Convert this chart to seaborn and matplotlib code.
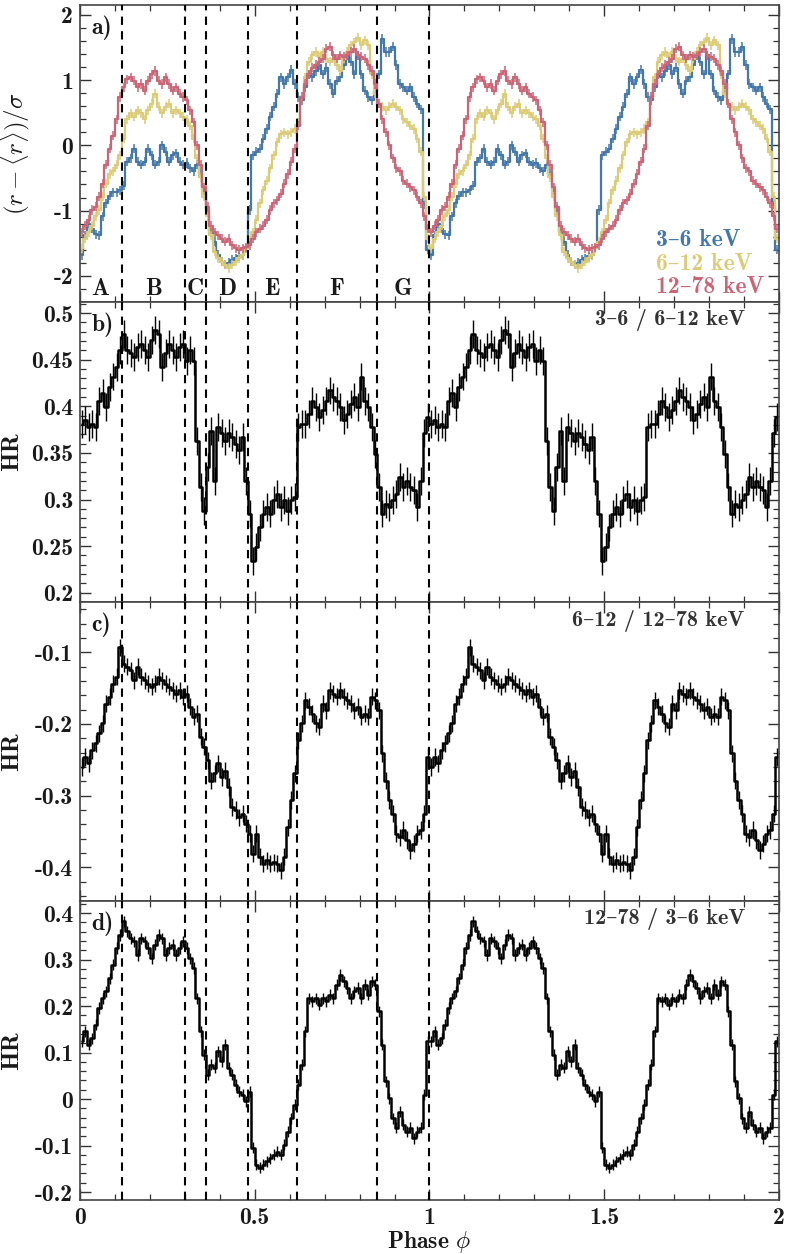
import numpy as np
import matplotlib
matplotlib.use("Agg")
import matplotlib.pyplot as plt
from matplotlib.ticker import MultipleLocator, FuncFormatter
import seaborn as sns

# one pulse cycle, 100 phase bins; the plot shows the cycle twice
n_bins = 100
rate_3_6 = [-1.68, -1.38, -1.21, -1.28, -1.36, -1.38, -1.09, -0.89, -0.77, -0.72,
            -0.72, -0.69, -0.62, -0.25, -0.20, -0.05, -0.25, -0.30, -0.25, -0.05,
            -0.15, -0.30, -0.25, 0.00, -0.10, -0.25, -0.15, -0.12, -0.25, -0.30,
            -0.27, -0.35, -0.40, -0.30, -0.44, -0.69, -0.99, -1.33, -1.48, -1.68,
            -1.78, -1.83, -1.80, -1.75, -1.73, -1.70, -1.68, -1.58, -0.99, -0.15,
            -0.10, -0.05, 0.10, 0.25, 0.44, 0.59, 0.79, 1.04, 0.94, 1.04,
            1.16, 0.94, 0.74, 0.69, 0.89, 1.09, 1.04, 1.14, 1.23, 1.09,
            1.19, 0.94, 0.79, 0.99, 1.04, 1.23, 1.38, 1.28, 1.09, 1.38,
            1.09, 0.84, 0.74, 0.69, 0.84, 1.09, 1.63, 1.43, 1.43, 1.51,
            1.23, 0.94, 0.89, 0.84, 0.89, 0.74, 0.64, 0.55, -0.90, -1.60]
rate_6_12 = [-1.58, -1.43, -1.33, -1.23, -1.09, -0.99, -0.79, -0.59, -0.44, -0.40,
             -0.30, -0.15, 0.10, 0.40, 0.49, 0.44, 0.54, 0.49, 0.40, 0.54,
             0.64, 0.79, 0.59, 0.49, 0.59, 0.64, 0.49, 0.54, 0.49, 0.44,
             0.40, 0.30, 0.10, -0.20, -0.49, -0.79, -1.09, -1.38, -1.63, -1.73,
             -1.78, -1.83, -1.88, -1.83, -1.78, -1.73, -1.68, -1.58, -1.48, -1.33,
             -1.14, -0.89, -0.69, -0.54, -0.35, -0.15, 0.05, 0.17, 0.20, 0.17,
             0.20, 0.25, 0.35, 0.74, 1.04, 1.28, 1.38, 1.43, 1.36, 1.43,
             1.33, 1.28, 1.33, 1.23, 1.14, 1.33, 1.43, 1.53, 1.58, 1.65,
             1.53, 1.61, 1.53, 1.09, 0.79, 0.64, 0.59, 0.54, 0.59, 0.64,
             0.59, 0.54, 0.40, 0.35, 0.30, 0.25, 0.10, -0.10, -0.79, -1.43]
rate_12_78 = [-1.33, -1.23, -1.14, -0.99, -0.94, -0.79, -0.59, -0.30, -0.05, 0.15,
              0.40, 0.74, 0.89, 1.01, 1.04, 0.99, 0.89, 0.94, 0.84, 0.99,
              1.09, 1.14, 0.99, 0.94, 1.04, 0.94, 0.84, 0.89, 0.79, 0.74,
              0.69, 0.54, 0.35, 0.00, -0.30, -0.64, -0.94, -1.23, -1.33, -1.38,
              -1.43, -1.48, -1.43, -1.53, -1.58, -1.60, -1.58, -1.56, -1.53, -1.43,
              -1.33, -1.28, -1.23, -1.14, -0.99, -0.89, -0.84, -0.74, -0.59, -0.44,
              -0.25, -0.05, 0.30, 0.74, 0.94, 1.09, 1.19, 1.23, 1.28, 1.33,
              1.48, 1.51, 1.38, 1.33, 1.38, 1.36, 1.38, 1.43, 1.48, 1.38,
              1.36, 1.33, 1.23, 1.14, 0.94, 0.64, 0.40, 0.20, 0.00, -0.20,
              -0.35, -0.40, -0.54, -0.59, -0.64, -0.69, -0.79, -0.89, -1.09, -1.28]
hr_3_6_over_6_12 = [0.381, 0.385, 0.378, 0.381, 0.378, 0.406, 0.414, 0.399, 0.421, 0.432,
                    0.442, 0.460, 0.478, 0.460, 0.457, 0.453, 0.464, 0.467, 0.460, 0.453,
                    0.471, 0.482, 0.478, 0.442, 0.457, 0.467, 0.460, 0.453, 0.464, 0.467,
                    0.449, 0.460, 0.449, 0.363, 0.313, 0.288, 0.335, 0.374, 0.320, 0.378,
                    0.371, 0.363, 0.371, 0.367, 0.360, 0.353, 0.367, 0.320, 0.285, 0.234,
                    0.249, 0.270, 0.285, 0.292, 0.285, 0.299, 0.306, 0.292, 0.299, 0.288,
                    0.299, 0.303, 0.378, 0.381, 0.381, 0.392, 0.406, 0.399, 0.389, 0.396,
                    0.406, 0.417, 0.410, 0.406, 0.399, 0.385, 0.392, 0.403, 0.410, 0.399,
                    0.432, 0.406, 0.399, 0.378, 0.349, 0.313, 0.285, 0.295, 0.292, 0.299,
                    0.306, 0.324, 0.313, 0.320, 0.313, 0.310, 0.292, 0.320, 0.371, 0.389]
hr_6_12_over_12_78 = [-0.260, -0.246, -0.255, -0.237, -0.227, -0.213, -0.199, -0.172, -0.162, -0.144,
                      -0.134, -0.093, -0.116, -0.120, -0.125, -0.139, -0.120, -0.134, -0.139, -0.144,
                      -0.148, -0.144, -0.134, -0.139, -0.144, -0.148, -0.153, -0.158, -0.153, -0.162,
                      -0.158, -0.176, -0.190, -0.186, -0.218, -0.232, -0.251, -0.279, -0.269, -0.255,
                      -0.274, -0.265, -0.288, -0.316, -0.320, -0.330, -0.325, -0.339, -0.353, -0.381,
                      -0.353, -0.385, -0.395, -0.390, -0.395, -0.393, -0.395, -0.404, -0.385, -0.344,
                      -0.306, -0.269, -0.223, -0.199, -0.167, -0.176, -0.186, -0.199, -0.204, -0.172,
                      -0.181, -0.153, -0.158, -0.162, -0.153, -0.162, -0.167, -0.172, -0.181, -0.176,
                      -0.190, -0.186, -0.190, -0.162, -0.167, -0.181, -0.241, -0.279, -0.306, -0.325,
                      -0.353, -0.358, -0.348, -0.362, -0.376, -0.367, -0.353, -0.348, -0.325, -0.246]
hr_12_78_over_3_6 = [0.124, 0.146, 0.117, 0.131, 0.160, 0.196, 0.217, 0.232, 0.260, 0.289,
                     0.325, 0.353, 0.382, 0.361, 0.346, 0.339, 0.310, 0.346, 0.339, 0.325,
                     0.303, 0.332, 0.353, 0.346, 0.310, 0.325, 0.332, 0.310, 0.325, 0.339,
                     0.325, 0.303, 0.282, 0.217, 0.146, 0.095, 0.052, 0.074, 0.067, 0.103,
                     0.081, 0.117, 0.067, 0.052, 0.031, 0.016, 0.009, -0.005, 0.016, -0.105,
                     -0.141, -0.148, -0.141, -0.134, -0.127, -0.120, -0.113, -0.120, -0.098, -0.070,
                     -0.041, -0.012, 0.031, 0.074, 0.146, 0.217, 0.210, 0.217, 0.203, 0.217,
                     0.210, 0.224, 0.217, 0.246, 0.267, 0.253, 0.239, 0.217, 0.232, 0.239,
                     0.217, 0.246, 0.224, 0.253, 0.246, 0.189, 0.117, 0.038, 0.002, -0.041,
                     -0.062, -0.027, -0.055, -0.070, -0.062, -0.084, -0.070, -0.062, 0.009, 0.124]

err_rate = 0.07
err_hr = [0.015, 0.012, 0.012]

bands = ["3–6 keV", "6–12 keV", "12–78 keV"]
band_colors = ["#4477AA", "#DDCC77", "#CC6677"]
ratio_labels = ["3–6 / 6–12 keV", "6–12 / 12–78 keV", "12–78 / 3–6 keV"]
region_edges = [0.12, 0.30, 0.36, 0.48, 0.62, 0.85, 1.0]
region_names = ["A", "B", "C", "D", "E", "F", "G"]
region_x = [0.057, 0.21, 0.33, 0.42, 0.55, 0.735, 0.925]

sns.set_theme(style="ticks")
plt.rcParams["font.family"] = ["cmb10", "DejaVu Serif"]
plt.rcParams["mathtext.fontset"] = "cm"
plt.rcParams["axes.unicode_minus"] = False

phase_one = (np.arange(n_bins) + 0.5) / n_bins
phase = np.concatenate([phase_one, phase_one + 1])

def two_cycles(vals):
    return np.concatenate([vals, vals])

fig = plt.figure(figsize=(7.89, 12.54), dpi=100)
boxes = [(0.7592, 0.2368), (0.5199, 0.2393), (0.2815, 0.2384), (0.0431, 0.2384)]
axes = [fig.add_axes([0.1014, b, 0.8859, h]) for b, h in boxes]

fmt = FuncFormatter(lambda v, p: f"{round(v, 3) + 0.0:g}")
ink = "#1a1a1a"

def style_axis(ax, ylim, major, minor):
    ax.set_xlim(0, 2)
    ax.set_ylim(*ylim)
    ax.xaxis.set_major_locator(MultipleLocator(0.5))
    ax.xaxis.set_minor_locator(MultipleLocator(0.1))
    ax.yaxis.set_major_locator(MultipleLocator(major))
    ax.yaxis.set_minor_locator(MultipleLocator(minor))
    ax.xaxis.set_major_formatter(fmt)
    ax.yaxis.set_major_formatter(fmt)
    ax.tick_params(which="both", direction="in", top=True, right=True,
                   colors="#333333", labelcolor=ink, labelsize=17)
    ax.tick_params(which="major", length=8, width=1.0, pad=5)
    ax.tick_params(which="minor", length=4, width=0.9)
    for s in ax.spines.values():
        s.set_color("#444444")
        s.set_linewidth(1.2)
    for edge in region_edges:
        ax.axvline(edge, color="black", ls=(0, (4, 3)), lw=1.5, zorder=5)

# a) normalised light curves
ax = axes[0]
for vals, col in zip([rate_3_6, rate_6_12, rate_12_78], band_colors):
    y = two_cycles(vals)
    ax.errorbar(phase, y, yerr=err_rate, fmt="none", ecolor=col, elinewidth=1.1)
    sns.lineplot(x=phase, y=y, ax=ax, color=col, lw=1.6, drawstyle="steps-mid",
                 legend=False)
style_axis(ax, (-2.4, 2.15), 1, 0.2)
ax.set_ylabel(r"$(r-\langle r\rangle)/\sigma$", fontsize=18, color=ink)
ax.tick_params(labelbottom=False)
for name, xr in zip(region_names, region_x):
    ax.text(xr, -2.2, name, ha="center", va="center", fontsize=17, color=ink)
for i, (lab, col) in enumerate(zip(bands, band_colors)):
    ax.text(0.824, 0.209 - i * 0.08, lab, transform=ax.transAxes, ha="left",
            va="center", fontsize=17, color=col)
ax.text(0.016, 0.965, "a)", transform=ax.transAxes, ha="left", va="top",
        fontsize=17, color=ink)

# b)-d) hardness ratios
hr_sets = [hr_3_6_over_6_12, hr_6_12_over_12_78, hr_12_78_over_3_6]
limits = [(0.19, 0.512), (-0.447, -0.03), (-0.217, 0.426)]
majors = [0.05, 0.1, 0.1]
minors = [0.01, 0.02, 0.02]
for k, ax in enumerate(axes[1:]):
    y = two_cycles(hr_sets[k])
    ax.errorbar(phase, y, yerr=err_hr[k], fmt="none", ecolor="black", elinewidth=1.0)
    sns.lineplot(x=phase, y=y, ax=ax, color="black", lw=1.8, drawstyle="steps-mid",
                 legend=False)
    style_axis(ax, limits[k], majors[k], minors[k])
    ax.set_ylabel("HR", fontsize=18, color=ink)
    ax.yaxis.set_label_coords(-0.082, 0.5)
    ax.text(0.016, 0.965, "bcd"[k] + ")", transform=ax.transAxes, ha="left", va="top",
            fontsize=17, color=ink)
    ax.text(0.951, 0.975, ratio_labels[k], transform=ax.transAxes, ha="right", va="top",
            fontsize=16, color="#333333")
    if k < 2:
        ax.tick_params(labelbottom=False)

axes[0].yaxis.set_label_coords(-0.068, 0.5)
axes[-1].set_xlabel(r"Phase $\phi$", fontsize=17, color=ink, labelpad=0)

fig.savefig("out.png", dpi=100)
